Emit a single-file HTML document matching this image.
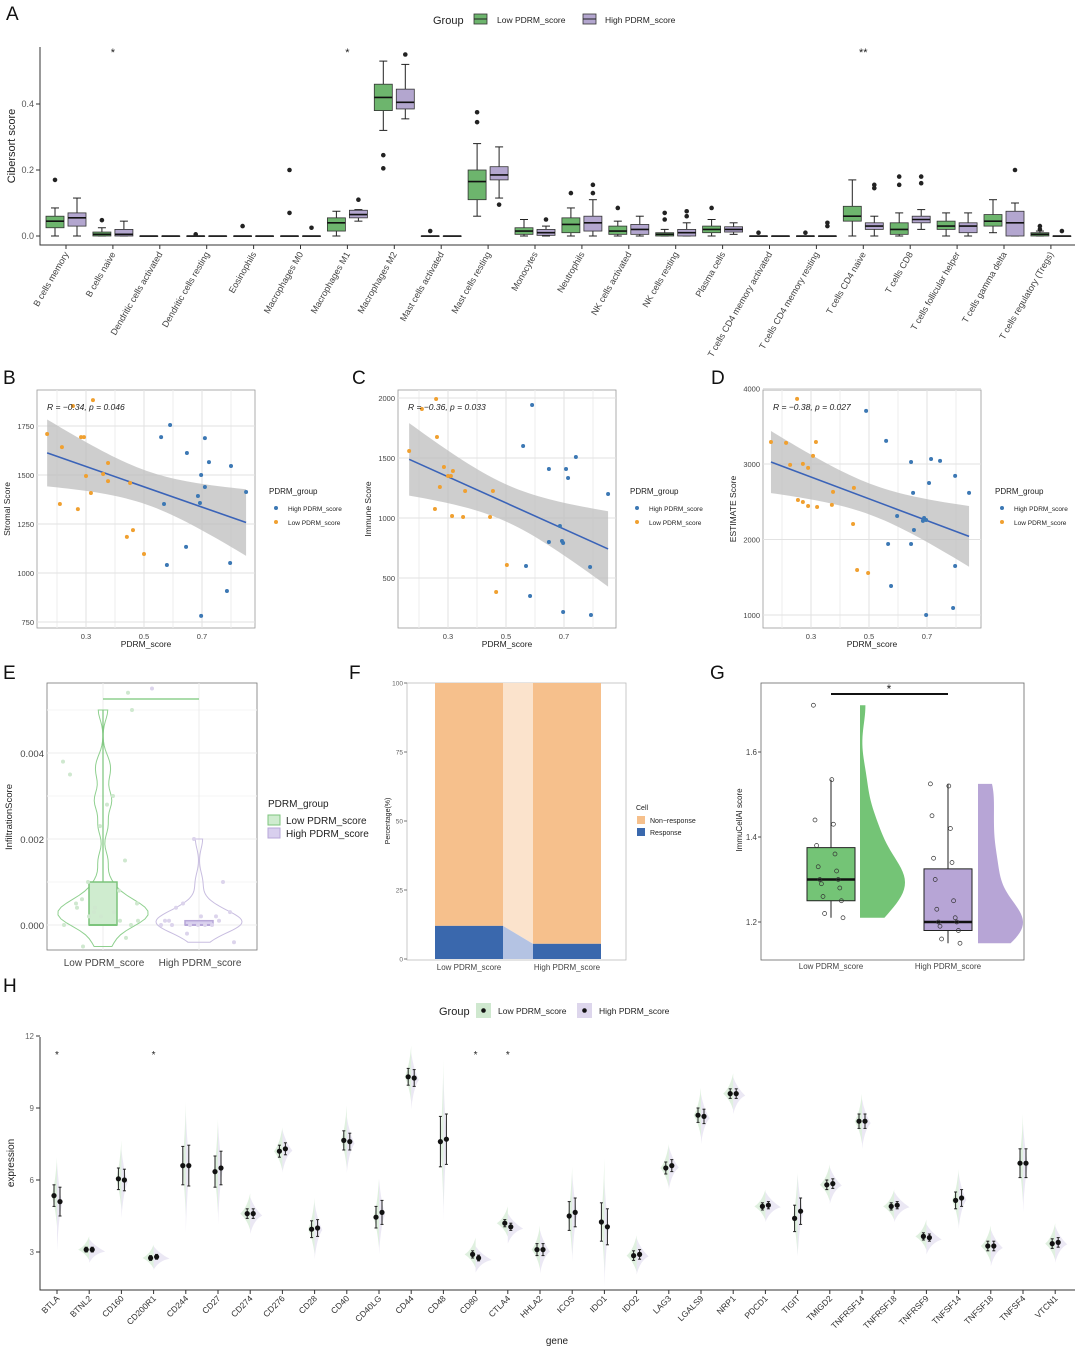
<!DOCTYPE html>
<html><head><meta charset="utf-8"><style>
html,body{margin:0;padding:0;background:#fff}
svg{display:block;font-family:"Liberation Sans",sans-serif}
</style></head><body>
<svg id="fig" width="1080" height="1348" viewBox="0 0 1080 1348" xmlns="http://www.w3.org/2000/svg"></svg>
<script>
// ===== Panel A data =====
const cellTypes=["B cells memory","B cells naive","Dendritic cells activated","Dendritic cells resting","Eosinophils","Macrophages M0","Macrophages M1","Macrophages M2","Mast cells activated","Mast cells resting","Monocytes","Neutrophils","NK cells activated","NK cells resting","Plasma cells","T cells CD4 memory activated","T cells CD4 memory resting","T cells CD4 naive","T cells CD8","T cells follicular helper","T cells gamma delta","T cells regulatory (Tregs)"];
// [median,q1,q3,whiskerLo,whiskerHi]
const lowBox=[[.045,.025,.06,0,.085],[.005,0,.012,0,.025],[0,0,0,0,0],[0,0,0,0,0],[0,0,0,0,0],[0,0,0,0,0],[.04,.015,.055,0,.075],[.42,.38,.46,.32,.53],[0,0,0,0,0],[.165,.11,.2,.06,.28],[.015,.005,.025,0,.05],[.035,.01,.055,0,.085],[.015,.005,.03,0,.045],[.005,0,.01,0,.02],[.02,.01,.03,0,.05],[0,0,0,0,0],[0,0,0,0,0],[.06,.045,.09,0,.17],[.02,.005,.04,0,.07],[.03,.02,.045,0,.07],[.045,.03,.065,.01,.11],[.005,0,.01,0,.015]];
const highBox=[[.055,.03,.07,0,.115],[.005,0,.02,0,.045],[0,0,0,0,0],[0,0,0,0,0],[0,0,0,0,0],[0,0,0,0,0],[.065,.055,.078,.045,.08],[.405,.385,.445,.355,.52],[0,0,0,0,0],[.185,.17,.21,.115,.27],[.01,.002,.02,0,.03],[.04,.015,.06,0,.11],[.02,.005,.035,0,.06],[.01,0,.02,0,.04],[.02,.012,.028,.005,.04],[0,0,0,0,0],[0,0,0,0,0],[.03,.02,.04,0,.06],[.05,.04,.06,.02,.08],[.03,.01,.04,0,.07],[.04,0,.075,0,.1],[0,0,0,0,0]];
const lowOut=[[.17],[.048],[],[.005],[.03],[.2,.07],[],[.245,.205],[.015],[.375,.345],[],[.13],[.085],[.07,.05],[.085],[.01],[.01],[],[.18,.155],[],[],[.03,.02]];
const highOut=[[],[],[],[],[],[.025],[.11],[.55],[],[.095],[.05],[.155,.13],[],[.075,.06],[],[],[.04,.03],[.155,.145],[.18,.16],[],[.2],[.015]];
const aStars={1:"*",6:"*",17:"**"};
const aTicks=[0,0.2,0.4];

// ===== Panels B,C,D data =====
const bLowX=[.166,.217,.255,.283,.293,.324,.30,.317,.21,.272,.359,.376,.376,.452,.441,.462,.5];
const bLowY=[1709,1642,1852,1693,1693,1882,1495,1408,1352,1326,1505,1561,1469,1459,1184,1219,1097];
const bHighX=[.59,.559,.648,.71,.724,.697,.686,.71,.8,.852,.569,.693,.579,.645,.797,.786,.697];
const bHighY=[1755,1693,1612,1688,1566,1500,1393,1439,1546,1413,1352,1357,1041,1133,1051,908,781];
const cLowX=[.166,.21,.259,.262,.272,.286,.3,.31,.317,.255,.314,.352,.359,.445,.455,.503,.466];
const cLowY=[1558,1908,1992,1675,1258,1425,1350,1350,1392,1075,1017,1008,1225,1008,1225,608,383];
const cHighX=[.59,.559,.648,.707,.714,.741,.852,.686,.693,.648,.697,.79,.569,.583,.697,.793];
const cHighY=[1942,1600,1408,1408,1333,1508,1200,933,808,800,792,592,600,350,217,192];
const dLowX=[.162,.214,.228,.252,.272,.29,.307,.317,.255,.272,.29,.321,.376,.372,.448,.445,.459,.497];
const dLowY=[3292,3279,2988,3862,3001,2948,3107,3292,2524,2497,2444,2431,2630,2458,2683,2206,1596,1557];
const dHighX=[.49,.559,.645,.714,.745,.707,.652,.597,.655,.686,.697,.69,.566,.645,.797,.845,.797,.576,.79,.697];
const dHighY=[3703,3306,3027,3067,3041,2749,2617,2312,2126,2246,2259,2285,1941,1941,2842,2617,1649,1384,1093,1000];

// ===== Panel E data =====
const eLowVals=[.0038,.0023,.0005,.0003,0,.001,.0015,.0006,.0008,.0005,.003,.0035,.0028,0,.0002,.0001,.0004,.005,.0002,-.0003,-.0005,.0001,.0004,.0003];
const eHighVals=[0,0,.0001,0,.0002,.0003,.0005,0,.0001,.002,.001,.0004,0,-.0004,-.0002,.0002,.0001,0];
const eBoxLow=[0,0,.001,0,.005];
const eBoxHigh=[0,0,.0001,0,.0001];
const eTicks=[0,0.002,0.004];
// ===== Panel F data =====
const fGroups=["Low PDRM_score","High PDRM_score"];
const fResponse=[12,5.5];
const fTicks=[0,25,50,75,100];
// ===== Panel G data =====
const gLowVals=[1.71,1.535,1.44,1.43,1.38,1.36,1.33,1.32,1.30,1.30,1.29,1.28,1.26,1.25,1.22,1.21];
const gHighVals=[1.525,1.52,1.45,1.42,1.35,1.34,1.30,1.25,1.23,1.21,1.20,1.20,1.19,1.18,1.16,1.15];
const gBoxLow=[1.30,1.25,1.375,1.21,1.535];
const gBoxHigh=[1.20,1.18,1.325,1.15,1.525];
const gTicks=[1.2,1.4,1.6];
// ===== Panel H data =====
const genes=["BTLA","BTNL2","CD160","CD200R1","CD244","CD27","CD274","CD276","CD28","CD40","CD40LG","CD44","CD48","CD80","CTLA4","HHLA2","ICOS","IDO1","IDO2","LAG3","LGALS9","NRP1","PDCD1","TIGIT","TMIGD2","TNFRSF14","TNFRSF18","TNFRSF9","TNFSF14","TNFSF18","TNFSF4","VTCN1"];
const hLowMean=[5.35,3.1,6.05,2.75,6.6,6.35,4.6,7.2,3.95,7.65,4.45,10.3,7.6,2.9,4.2,3.1,4.5,4.25,2.85,6.5,8.7,9.6,4.9,4.4,5.8,8.45,4.9,3.65,5.15,3.25,6.7,3.35];
const hHighMean=[5.1,3.1,6.0,2.8,6.6,6.5,4.6,7.3,4.0,7.6,4.65,10.25,7.7,2.75,4.05,3.1,4.65,4.05,2.9,6.6,8.65,9.6,4.95,4.7,5.85,8.45,4.95,3.6,5.25,3.25,6.7,3.4];
const hLowSd=[.45,.1,.45,.1,.8,.65,.2,.25,.35,.4,.45,.35,1.05,.15,.15,.25,.6,.8,.2,.25,.3,.2,.15,.55,.2,.3,.15,.15,.35,.2,.6,.2];
const hHighSd=[.6,.1,.45,.1,.85,.7,.2,.25,.35,.35,.5,.35,1.05,.12,.15,.25,.6,.75,.2,.25,.3,.2,.15,.55,.2,.3,.15,.15,.35,.2,.6,.2];
const hStars=[0,3,13,14];
const hTicks=[3,6,9,12];

// ===== helpers =====
const NS="http://www.w3.org/2000/svg";
const svg=document.getElementById('fig');
function mk(tag,attrs,parent){const e=document.createElementNS(NS,tag);for(const k in attrs)e.setAttribute(k,attrs[k]);(parent||svg).appendChild(e);return e;}
function named(e,n,i){


return e;}
function txt(x,y,s,size,attrs,parent){const t=mk('text',Object.assign({x:x,y:y,'font-size':size,fill:'#222'},attrs||{}),parent);t.textContent=s;return t;}
function grp(name){const g=mk('g',{});named(g,name,false);return g;}
function kde(vals,y,bw){let s=0;for(const v of vals){const z=(y-v)/bw;s+=Math.exp(-0.5*z*z);}return s;}

const GREEN="#6db56d",PURPLE="#b3a6cf";

// ===== Panel labels =====
[["A",6,20],["B",3,384],["C",352,384],["D",711,384],["E",3,679],["F",349,679],["G",710,679],["H",3,992]].forEach(p=>{const t=txt(p[1],p[2],p[0],19,{fill:'#111'});named(t,'panel-label-'+p[0].toLowerCase(),false);});

// ===== Panel A =====
(function(){
const g=grp('panel-a-boxplot');
const ay=v=>236-v*330, ax=i=>66+i*46.9;
const axl=mk('path',{d:'M40,47V245H1075',stroke:'#333',fill:'none','stroke-width':1},g);named(axl,'a-axes',false);
aTicks.forEach(v=>{mk('line',{x1:36,x2:40,y1:ay(v),y2:ay(v),stroke:'#333'},g);const t=txt(34,ay(v)+3,v.toFixed(1),9,{'text-anchor':'end',fill:'#555'},g);named(t,'a-y-tick',false);});
const yl=txt(0,0,'Cibersort score',11,{'text-anchor':'middle',transform:'translate(15,146) rotate(-90)'},g);named(yl,'a-y-axis-title',false);
function box(cx,b,col,outs,name){
const gg=mk('g',{},g);named(gg,name,false);
mk('line',{x1:cx,x2:cx,y1:ay(b[3]),y2:ay(b[4]),stroke:'#222'},gg);
mk('line',{x1:cx-4,x2:cx+4,y1:ay(b[3]),y2:ay(b[3]),stroke:'#222'},gg);
mk('line',{x1:cx-4,x2:cx+4,y1:ay(b[4]),y2:ay(b[4]),stroke:'#222'},gg);
mk('rect',{x:cx-9,y:ay(b[2]),width:18,height:Math.max(ay(b[1])-ay(b[2]),0.5),fill:col,stroke:'#333','stroke-width':0.8},gg);
mk('line',{x1:cx-9,x2:cx+9,y1:ay(b[0]),y2:ay(b[0]),stroke:'#111','stroke-width':1.6},gg);
outs.forEach(o=>mk('circle',{cx:cx,cy:ay(o),r:2.3,fill:'#222'},gg));}
cellTypes.forEach((c,i)=>{
box(ax(i)-11,lowBox[i],GREEN,lowOut[i],'box-low-'+i);
box(ax(i)+11,highBox[i],PURPLE,highOut[i],'box-high-'+i);
mk('line',{x1:ax(i),x2:ax(i),y1:245,y2:249,stroke:'#333'},g);
const t=txt(0,0,c,9,{'text-anchor':'end',fill:'#444',transform:`translate(${ax(i)+3},254) rotate(-60)`},g);named(t,'a-x-tick-label',false);
if(aStars[i]){const s=txt(ax(i),56,aStars[i],11,{'text-anchor':'middle'},g);named(s,'a-significance-star',false);}
});
const lg=mk('g',{},g);named(lg,'a-legend',false);
txt(433,24,'Group',11,{},lg);
[[474,GREEN,'Low PDRM_score',497],[583,PURPLE,'High PDRM_score',605]].forEach(l=>{
mk('rect',{x:l[0],y:14,width:13,height:10,fill:l[1],stroke:'#333','stroke-width':.8},lg);
mk('line',{x1:l[0],x2:l[0]+13,y1:19,y2:19,stroke:'#222'},lg);
txt(l[3],23,l[2],8.5,{},lg);});
})();

// ===== Scatter panels =====
function scatter(name,X0,px03,yScale,yTicks,yTitle,lowX,lowY,highX,highY,rtext){
const g=grp(name);
const x0=X0,x1=X0+218,yTop=390,yBot=628;
const sx=v=>px03+(v-0.3)*290;
mk('rect',{x:x0,y:yTop,width:218,height:238,fill:'#fff',stroke:'#999','stroke-width':.8},g);
[0.2,0.4,0.6,0.8].forEach(v=>mk('line',{x1:sx(v),x2:sx(v),y1:yTop,y2:yBot,stroke:'#eee'},g));
[0.3,0.5,0.7].forEach(v=>{mk('line',{x1:sx(v),x2:sx(v),y1:yTop,y2:yBot,stroke:'#e2e2e2'},g);const t=txt(sx(v),639,String(v),7.5,{'text-anchor':'middle',fill:'#444'},g);named(t,'x-tick',false);});
yTicks.forEach(v=>{mk('line',{x1:x0,x2:x1,y1:yScale(v),y2:yScale(v),stroke:'#e2e2e2'},g);const t=txt(x0-3,yScale(v)+3,String(v),7.5,{'text-anchor':'end',fill:'#444'},g);named(t,'y-tick',false);});
const xs=lowX.concat(highX),ys=lowY.concat(highY),n=xs.length;
const mx=xs.reduce((a,b)=>a+b)/n,my=ys.reduce((a,b)=>a+b)/n;
let sxx=0,sxy=0;xs.forEach((x,i)=>{sxx+=(x-mx)**2;sxy+=(x-mx)*(ys[i]-my);});
const b=sxy/sxx,a=my-b*mx;let sse=0;xs.forEach((x,i)=>{sse+=(ys[i]-a-b*x)**2;});const s=Math.sqrt(sse/(n-2));
const xmin=Math.min(...xs),xmax=Math.max(...xs);let up=[],dn=[];
for(let k=0;k<=40;k++){const x=xmin+(xmax-xmin)*k/40;const se=2.04*s*Math.sqrt(1/n+(x-mx)**2/sxx);up.push([sx(x),yScale(a+b*x+se)]);dn.push([sx(x),yScale(a+b*x-se)]);}
const band=mk('path',{d:'M'+up.map(p=>p.join(',')).join('L')+'L'+dn.reverse().map(p=>p.join(',')).join('L')+'Z',fill:'#bdbdbd','fill-opacity':.75},g);named(band,'confidence-band',false);
const rl=mk('line',{x1:sx(xmin),y1:yScale(a+b*xmin),x2:sx(xmax),y2:yScale(a+b*xmax),stroke:'#3a63b8','stroke-width':1.6},g);named(rl,'regression-line',false);
lowX.forEach((x,i)=>{const c=mk('circle',{cx:sx(x),cy:yScale(lowY[i]),r:2,fill:'#f0a030'},g);named(c,'point-low',false);});
highX.forEach((x,i)=>{const c=mk('circle',{cx:sx(x),cy:yScale(highY[i]),r:2,fill:'#3c78b4'},g);named(c,'point-high',false);});
const rt=txt(x0+10,410,rtext,8.5,{'font-style':'italic'},g);named(rt,'correlation-label',false);
const xt=txt(x0+109,647,'PDRM_score',8.5,{'text-anchor':'middle'},g);named(xt,'x-axis-title',false);
const yt=txt(0,0,yTitle,8.5,{'text-anchor':'middle',transform:`translate(${x0-27},509) rotate(-90)`},g);named(yt,'y-axis-title',false);
const lg=mk('g',{},g);named(lg,'legend',false);
txt(x0+232,494,'PDRM_group',8,{},lg);
mk('circle',{cx:x0+239,cy:508,r:2,fill:'#3c78b4'},lg);txt(x0+251,511,'High PDRM_score',6.5,{},lg);
mk('circle',{cx:x0+239,cy:522,r:2,fill:'#f0a030'},lg);txt(x0+251,525,'Low PDRM_score',6.5,{},lg);
}
scatter('panel-b-stromal',37,86,v=>622-(v-750)*49/250,[750,1000,1250,1500,1750],'Stromal Score',bLowX,bLowY,bHighX,bHighY,'R = −0.34, p = 0.046');
scatter('panel-c-immune',398,448,v=>578-(v-500)*60/500,[500,1000,1500,2000],'Immune Score',cLowX,cLowY,cHighX,cHighY,'R = −0.36, p = 0.033');
scatter('panel-d-estimate',763,811,v=>615-(v-1000)*75.5/1000,[1000,2000,3000,4000],'ESTIMATE Score',dLowX,dLowY,dHighX,dHighY,'R = −0.38, p = 0.027');

// ===== Panel E =====
(function(){
const g=grp('panel-e-violin');
const ey=v=>925-v*43000;
mk('rect',{x:47,y:683,width:210,height:267,fill:'#fff',stroke:'#777','stroke-width':.8},g);
eTicks.forEach(v=>{mk('line',{x1:47,x2:257,y1:ey(v),y2:ey(v),stroke:'#ececec'},g);const t=txt(44,ey(v)+4,v.toFixed(3),9.5,{'text-anchor':'end',fill:'#444'},g);named(t,'e-y-tick',false);});
[.001,.003,.005].forEach(v=>mk('line',{x1:47,x2:257,y1:ey(v),y2:ey(v),stroke:'#f4f4f4'},g));
[103,199].forEach(x=>mk('line',{x1:x,x2:x,y1:683,y2:950,stroke:'#ececec'},g));
function violin(cx,vals,col,fillc,maxW,name){
const lo=Math.min(...vals),hi=Math.max(...vals);let pts=[];let mxd=0;const N=60;
for(let k=0;k<=N;k++){const y=lo+(hi-lo)*k/N;const d=kde(vals,y,0.00022);mxd=Math.max(mxd,d);pts.push([y,d]);}
const r=pts.map(p=>[cx+p[1]/mxd*maxW,ey(p[0])]),l=pts.slice().reverse().map(p=>[cx-p[1]/mxd*maxW,ey(p[0])]);
const v=mk('path',{d:'M'+r.concat(l).map(p=>p.join(',')).join('L')+'Z',fill:'none',stroke:col,'stroke-width':1},g);named(v,name,false);}
violin(103,eLowVals,'#8fd08f','',45,'violin-low');
violin(199,eHighVals,'#c8bde0','',43,'violin-high');
function bx(cx,b,col,fill,name){const gg=mk('g',{},g);named(gg,name,false);
mk('line',{x1:cx,x2:cx,y1:ey(b[3]),y2:ey(b[4]),stroke:col,'stroke-width':1.2},gg);
mk('rect',{x:cx-14,y:ey(b[2]),width:28,height:Math.max(ey(b[1])-ey(b[2]),2.5),fill:fill,stroke:col,'stroke-width':1.5},gg);
mk('line',{x1:cx-14,x2:cx+14,y1:ey(b[0]),y2:ey(b[0]),stroke:col,'stroke-width':2},gg);}
bx(103,eBoxLow,'#7cc47c','#cfeccf','box-low');
bx(199,eBoxHigh,'#b7a7d8','#d8cfee','box-high');
eLowVals.forEach((v,i)=>{const c=mk('circle',{cx:103+((i*37)%80-40),cy:ey(v),r:2,fill:'#cfe8cf'},g);named(c,'point-low',false);});
eHighVals.forEach((v,i)=>{const c=mk('circle',{cx:199+((i*29)%76-38),cy:ey(v),r:2,fill:'#dcd4ec'},g);named(c,'point-high',false);});
mk('circle',{cx:128,cy:ey(.0054),r:2,fill:'#cfe8cf'},g);mk('circle',{cx:152,cy:ey(.0055),r:2,fill:'#dcd4ec'},g);
const br=mk('line',{x1:103,x2:199,y1:699,y2:699,stroke:'#8fd08f','stroke-width':1.5},g);named(br,'significance-bracket',false);
txt(104,966,'Low PDRM_score',10,{'text-anchor':'middle',fill:'#444'},g);
txt(200,966,'High PDRM_score',10,{'text-anchor':'middle',fill:'#444'},g);
const yt=txt(0,0,'InfiltrationScore',9.5,{'text-anchor':'middle',transform:'translate(12,817) rotate(-90)'},g);named(yt,'e-y-axis-title',false);
const lg=mk('g',{},g);named(lg,'e-legend',false);
txt(268,807,'PDRM_group',10,{},lg);
mk('rect',{x:268,y:815,width:12,height:10,fill:'#cfeccf',stroke:'#7cc47c'},lg);txt(286,824,'Low PDRM_score',10,{},lg);
mk('rect',{x:268,y:828,width:12,height:10,fill:'#d8cfee',stroke:'#b7a7d8'},lg);txt(286,837,'High PDRM_score',10,{},lg);
})();

// ===== Panel F =====
(function(){
const g=grp('panel-f-stacked-bar');
const fy=v=>959-v*2.76, bx=[435,533], bw=68;
mk('rect',{x:407,y:683,width:219,height:277,fill:'#fff',stroke:'#bbb','stroke-width':.8},g);
fTicks.forEach(v=>{mk('line',{x1:404,x2:407,y1:fy(v),y2:fy(v),stroke:'#777'},g);const t=txt(403,fy(v)+2.5,String(v),6.5,{'text-anchor':'end',fill:'#666'},g);named(t,'f-y-tick',false);});
const rib1=mk('path',{d:`M${bx[0]+bw},${fy(100)}L${bx[1]},${fy(100)}L${bx[1]},${fy(fResponse[1])}L${bx[0]+bw},${fy(fResponse[0])}Z`,fill:'#fbe3cc'},g);named(rib1,'alluvium-non-response',false);
const rib2=mk('path',{d:`M${bx[0]+bw},${fy(fResponse[0])}L${bx[1]},${fy(fResponse[1])}L${bx[1]},${fy(0)}L${bx[0]+bw},${fy(0)}Z`,fill:'#b4c3e3'},g);named(rib2,'alluvium-response',false);
fGroups.forEach((gn,i)=>{
const a=mk('rect',{x:bx[i],y:fy(100),width:bw,height:fy(fResponse[i])-fy(100),fill:'#f6c08c'},g);named(a,'bar-non-response-'+i,false);
const b=mk('rect',{x:bx[i],y:fy(fResponse[i]),width:bw,height:fy(0)-fy(fResponse[i]),fill:'#3a68ad'},g);named(b,'bar-response-'+i,false);
const t=txt(bx[i]+bw/2,970,gn,8,{'text-anchor':'middle',fill:'#444'},g);named(t,'f-x-tick-label',false);});
const yt=txt(0,0,'Percentage(%)',7,{'text-anchor':'middle',transform:'translate(390,821) rotate(-90)'},g);named(yt,'f-y-axis-title',false);
const lg=mk('g',{},g);named(lg,'f-legend',false);
txt(636,810,'Cell',7,{},lg);
mk('rect',{x:637,y:816,width:8,height:8,fill:'#f6c08c'},lg);txt(650,823,'Non−response',7,{},lg);
mk('rect',{x:637,y:828,width:8,height:8,fill:'#3a68ad'},lg);txt(650,835,'Response',7,{},lg);
})();

// ===== Panel G =====
(function(){
const g=grp('panel-g-raincloud');
const gy=v=>922-(v-1.2)*425;
mk('rect',{x:761,y:683,width:263,height:277,fill:'#fff',stroke:'#666','stroke-width':.8},g);
gTicks.forEach(v=>{mk('line',{x1:758,x2:761,y1:gy(v),y2:gy(v),stroke:'#555'},g);const t=txt(757,gy(v)+3,v.toFixed(1),8,{'text-anchor':'end',fill:'#444'},g);named(t,'g-y-tick',false);});
function half(x0,vals,col,name){const lo=Math.min(...vals),hi=Math.max(...vals);let pts=[],mx=0;
for(let k=0;k<=60;k++){const y=lo+(hi-lo)*k/60;const d=kde(vals,y,0.05);mx=Math.max(mx,d);pts.push([y,d]);}
const p=mk('path',{d:`M${x0},${gy(lo)}`+pts.map(q=>`L${x0+q[1]/mx*45},${gy(q[0])}`).join('')+`L${x0},${gy(hi)}Z`,fill:col},g);named(p,name,false);}
half(860,gLowVals,'#74c476','half-violin-low');
half(978,gHighVals,'#b7a5d6','half-violin-high');
function bx(cx,b,fill,name){const gg=mk('g',{},g);named(gg,name,false);
mk('line',{x1:cx,x2:cx,y1:gy(b[3]),y2:gy(b[4]),stroke:'#222'},gg);
mk('rect',{x:cx-24,y:gy(b[2]),width:48,height:gy(b[1])-gy(b[2]),fill:fill,stroke:'#222'},gg);
mk('line',{x1:cx-24,x2:cx+24,y1:gy(b[0]),y2:gy(b[0]),stroke:'#111','stroke-width':2.5},gg);}
bx(831,gBoxLow,'#74c476','box-low');bx(948,gBoxHigh,'#b7a5d6','box-high');
gLowVals.forEach((v,i)=>{const c=mk('circle',{cx:831+((i*23)%44-22)*0.8,cy:gy(v),r:2,fill:'none',stroke:'#333','stroke-width':.7},g);named(c,'point-low',false);});
gHighVals.forEach((v,i)=>{const c=mk('circle',{cx:948+((i*23)%44-22)*0.8,cy:gy(v),r:2,fill:'none',stroke:'#333','stroke-width':.7},g);named(c,'point-high',false);});
const br=mk('line',{x1:831,x2:948,y1:694,y2:694,stroke:'#111','stroke-width':2},g);named(br,'significance-bracket',false);
txt(889,693,'*',12,{'text-anchor':'middle'},g);
txt(831,969,'Low PDRM_score',8,{'text-anchor':'middle',fill:'#444'},g);
txt(948,969,'High PDRM_score',8,{'text-anchor':'middle',fill:'#444'},g);
const yt=txt(0,0,'ImmuCellAI score',8,{'text-anchor':'middle',transform:'translate(742,820) rotate(-90)'},g);named(yt,'g-y-axis-title',false);
})();

// ===== Panel H =====
(function(){
const g=grp('panel-h-split-violin');
const hy=v=>1252-(v-3)*24, hx=i=>57+i*32.2;
const ax=mk('path',{d:'M40,1037V1290H1075',stroke:'#333',fill:'none'},g);named(ax,'h-axes',false);
hTicks.forEach(v=>{mk('line',{x1:36,x2:40,y1:hy(v),y2:hy(v),stroke:'#333'},g);const t=txt(34,hy(v)+3,String(v),8,{'text-anchor':'end',fill:'#666'},g);named(t,'h-y-tick',false);});
genes.forEach((gn,i)=>{
const cx=hx(i);const gg=mk('g',{},g);named(gg,'gene-'+gn,false);
const w1=Math.min(11,1.6/hLowSd[i]+2),w2=Math.min(16,2/hHighSd[i]+2);
const h1=hLowSd[i]*3*24+6,h2=hHighSd[i]*3*24+6;
mk('path',{d:`M${cx},${hy(hLowMean[i])-h1}Q${cx-w1*0.3},${hy(hLowMean[i])-h1*0.3} ${cx-w1},${hy(hLowMean[i])}Q${cx-w1*0.3},${hy(hLowMean[i])+h1*0.3} ${cx},${hy(hLowMean[i])+h1*0.8}Z`,fill:'#b7ddb7','fill-opacity':.45},gg);
mk('path',{d:`M${cx},${hy(hHighMean[i])-h2*0.8}Q${cx+w2*0.3},${hy(hHighMean[i])-h2*0.3} ${cx+w2},${hy(hHighMean[i])+2}Q${cx+w2*0.3},${hy(hHighMean[i])+h2*0.3} ${cx},${hy(hHighMean[i])+h2}Z`,fill:'#d2cbe6','fill-opacity':.45},gg);
[[cx-3,hLowMean[i],hLowSd[i]],[cx+3,hHighMean[i],hHighSd[i]]].forEach(p=>{
mk('line',{x1:p[0],x2:p[0],y1:hy(p[1]+p[2]),y2:hy(p[1]-p[2]),stroke:'#222'},gg);
mk('line',{x1:p[0]-1.5,x2:p[0]+1.5,y1:hy(p[1]+p[2]),y2:hy(p[1]+p[2]),stroke:'#222'},gg);
mk('line',{x1:p[0]-1.5,x2:p[0]+1.5,y1:hy(p[1]-p[2]),y2:hy(p[1]-p[2]),stroke:'#222'},gg);
mk('circle',{cx:p[0],cy:hy(p[1]),r:2.6,fill:'#111'},gg);});
mk('line',{x1:cx,x2:cx,y1:1290,y2:1294,stroke:'#333'},g);
const t=txt(0,0,gn,8.5,{'text-anchor':'end',fill:'#333',transform:`translate(${cx+3},1299) rotate(-45)`},g);named(t,'h-x-tick-label',false);
});
hStars.forEach(i=>{const s=txt(hx(i),1058,'*',10,{'text-anchor':'middle'},g);named(s,'h-significance-star',false);});
const xt=txt(557,1344,'gene',10,{'text-anchor':'middle'},g);named(xt,'h-x-axis-title',false);
const yt=txt(0,0,'expression',10,{'text-anchor':'middle',transform:'translate(14,1163) rotate(-90)'},g);named(yt,'h-y-axis-title',false);
const lg=mk('g',{},g);named(lg,'h-legend',false);
txt(439,1015,'Group',11,{},lg);
mk('rect',{x:476,y:1003,width:15,height:15,fill:'#cfe8cf'},lg);mk('circle',{cx:483.5,cy:1010.5,r:2.3,fill:'#111'},lg);txt(498,1014,'Low PDRM_score',8.5,{},lg);
mk('rect',{x:577,y:1003,width:15,height:15,fill:'#ddd6ec'},lg);mk('circle',{cx:584.5,cy:1010.5,r:2.3,fill:'#111'},lg);txt(599,1014,'High PDRM_score',8.5,{},lg);
})();
</script>
</body></html>
